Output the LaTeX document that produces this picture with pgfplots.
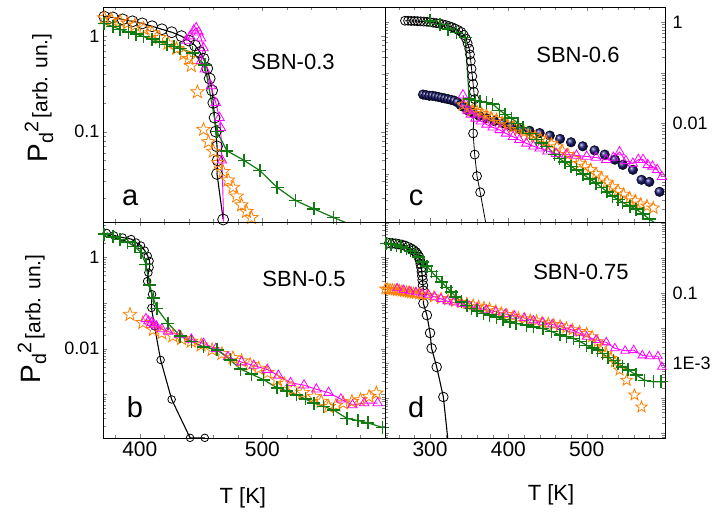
\documentclass[border=0pt]{standalone}
\usepackage{fontspec}
\setmainfont{Liberation Sans}
\usepackage{pgfplots}
\pgfplotsset{compat=1.18}
\usetikzlibrary{plotmarks}

\definecolor{cMag}{HTML}{FF00FF}
\definecolor{cOra}{HTML}{FF7F00}
\definecolor{cGrn}{HTML}{117A11}
\definecolor{cNav}{HTML}{1A1A78}

% open five-pointed star
\pgfdeclareplotmark{ostar}{%
  \pgfpathmoveto{\pgfpointpolar{90}{\pgfplotmarksize}}%
  \pgfpathlineto{\pgfpointpolar{126}{0.42\pgfplotmarksize}}%
  \pgfpathlineto{\pgfpointpolar{162}{\pgfplotmarksize}}%
  \pgfpathlineto{\pgfpointpolar{198}{0.42\pgfplotmarksize}}%
  \pgfpathlineto{\pgfpointpolar{234}{\pgfplotmarksize}}%
  \pgfpathlineto{\pgfpointpolar{270}{0.42\pgfplotmarksize}}%
  \pgfpathlineto{\pgfpointpolar{306}{\pgfplotmarksize}}%
  \pgfpathlineto{\pgfpointpolar{342}{0.42\pgfplotmarksize}}%
  \pgfpathlineto{\pgfpointpolar{18}{\pgfplotmarksize}}%
  \pgfpathlineto{\pgfpointpolar{54}{0.42\pgfplotmarksize}}%
  \pgfpathclose\pgfusepathqstroke}

\newcommand{\ylab}{{\fontsize{28}{28}\selectfont P\textsubscript{d}\textsuperscript{2}} {\fontsize{21}{21}\selectfont[arb. un.]}}

\tikzset{
  lab/.style={font=\fontsize{22}{22}\selectfont},
  plet/.style={font=\fontsize{29}{29}\selectfont, anchor=base},
}
\pgfplotsset{
  pnl/.style={scale only axis,
    xticklabel style={font=\fontsize{21}{21}\selectfont},
    yticklabel style={font=\fontsize{18}{18}\selectfont}},
  rlab/.style={yticklabel style={anchor=west, xshift=284pt}},
  leftx/.style={xmin=370, xmax=600, xtick={400,500},
    minor xtick={380,420,440,460,480,520,540,560,580}},
  rightx/.style={xmin=242.5, xmax=600, xtick={300,400,500},
    minor xtick={260,280,320,340,360,380,420,440,460,480,520,540,560,580}},
  circ/.style={black, line width=1.1pt, mark=o, mark options={solid, line width=0.8pt}},
  tri/.style={cMag, line width=0.9pt, mark=triangle, mark size=5.5pt, mark options={solid, line width=0.8pt}},
  sta/.style={cOra, only marks, mark=ostar, mark size=7pt, mark options={line width=0.8pt}},
  crs/.style={cGrn, line width=1.2pt, mark=+, mark size=6.5pt, mark options={line width=1.5pt}},
  bal/.style={only marks, mark=ball, mark size=4.8pt, mark options={ball color=cNav}},
}

\begin{document}
\begin{tikzpicture}
\useasboundingbox (0pt,0pt) rectangle (714pt,515pt);

% ---------- a: SBN-0.3 ----------
\begin{axis}[pnl, ymode=log, leftx, at={(103pt,293pt)}, anchor=south west,
  width=282pt, height=215pt, ymin=0.0113, ymax=2.02, xticklabels={},
  ytick={0.1,1}, yticklabels={0.1,1},
  minor ytick={0.02,0.03,0.04,0.05,0.06,0.07,0.08,0.09,0.2,0.3,0.4,0.5,0.6,0.7,0.8,0.9,2},
  ylabel={\ylab}, ylabel style={at={(axis description cs:-0.227,0.577)}, anchor=center}]
\addplot[circ, mark size=5.5pt] coordinates {(371,1.6)(378,1.57)(386,1.5)(394,1.43)(402,1.36)(410,1.27)(418,1.18)(426,1.1)(434,1.0)(440,0.9)(445,0.8)(449,0.68)(452,0.58)(455,0.46)(457,0.36)(459,0.27)(460,0.2)(461,0.14)(462,0.1)(463,0.07)(463.5,0.05)(463,0.036)(468,0.012)};
\addplot[sta] coordinates {(371,1.55)(377,1.48)(384,1.42)(390,1.37)(396,1.3)(403,1.2)(410,1.08)(416,0.96)(423,0.84)(430,0.74)(436,0.65)(440,0.58)(442,0.49)(447,0.26)(452,0.105)(456,0.078)(460,0.062)(464,0.047)(468,0.038)(472,0.031)(476,0.026)(479,0.021)(483,0.017)(487,0.0145)(491,0.0125)(494,0.011)};
\addplot[tri] coordinates {(438,0.9)(441,1.0)(444,1.15)(446,1.22)(448,1.1)(450,0.95)(452,0.75)(450,0.55)(453,0.45)(458,0.3)(462,0.2)(465,0.14)(466,0.11)(467,0.05)(468.5,0.011)};
\addplot[crs] coordinates {(371,1.36)(378,1.26)(384,1.18)(391,1.1)(397,1.05)(403,0.99)(410,0.93)(416,0.87)(422,0.82)(428,0.78)(433,0.74)(443,0.67)(453,0.5)(463,0.1)(471,0.063)(485,0.05)(498,0.039)(512,0.026)(527,0.019)(542,0.0155)(558,0.0126)(569,0.011)(580,0.0095)};
\node[lab] at (rel axis cs:0.674,0.744) {SBN-0.3};
\node[plet] at (rel axis cs:0.096,0.079) {a};
\end{axis}

% ---------- b: SBN-0.5 ----------
\begin{axis}[pnl, ymode=log, leftx, at={(103pt,77pt)}, anchor=south west,
  width=282pt, height=216pt, ymin=1.12e-4, ymax=5.9, xticklabels={400,500},
  ytick={0.001,0.01,0.1,1}, yticklabels={,0.01,,1},
  minor ytick={2e-4,3e-4,4e-4,5e-4,6e-4,7e-4,8e-4,9e-4,0.002,0.003,0.004,0.005,0.006,0.007,0.008,0.009,0.02,0.03,0.04,0.05,0.06,0.07,0.08,0.09,0.2,0.3,0.4,0.5,0.6,0.7,0.8,0.9,2,3,4,5},
  xlabel={T [K]}, xlabel style={font=\fontsize{22}{22}\selectfont, at={(axis description cs:0.496,-0.278)}, anchor=center},
  ylabel={\ylab}, ylabel style={at={(axis description cs:-0.252,0.551)}, anchor=center}]
\addplot[circ, mark size=3.8pt] coordinates {(373,3.4)(379,3.0)(386,2.7)(393,2.5)(397,2.1)(401,1.8)(404,1.4)(406.5,1.07)(408,0.83)(408,0.6)(407,0.46)(406,0.3)(410,0.155)(409.5,0.078)(412,0.031)(417,0.0057)(426,7.8e-4)(441,1.13e-4)(453,1.13e-4)};
\addplot[sta] coordinates {(392,0.056)(402.5,0.037)(411,0.026)(418,0.022)(427,0.019)(434,0.0165)(442,0.0145)(450,0.012)(459,0.0095)(467,0.0078)(476,0.0063)(483,0.0054)(490,0.0045)(497,0.0037)(504,0.003)(512,0.0021)(518,0.0017)(525,0.0013)(533,0.0011)(542,9e-4)(548,7e-4)(554,5.4e-4)(560,5.8e-4)(566,6.5e-4)(573,7.0e-4)(580,7.6e-4)(587,9e-4)(593,1.07e-3)};
\addplot[tri] coordinates {(405,0.045)(407,0.04)(409.6,0.037)(411.5,0.034)(413.6,0.031)(418,0.027)(423,0.024)(432,0.02)(442,0.016)(452,0.013)(462,0.01)(472,0.0066)(483,0.0051)(493,0.0043)(504,0.0035)(513,0.0026)(523,0.0018)(534,0.0016)(544,0.0013)(554,0.0011)(564,7.9e-4)(573.5,5.9e-4)(583,6.5e-4)(594,6.5e-4)};
\addplot[crs] coordinates {(371,3.2)(378,2.8)(384,2.45)(390,2.15)(396,1.7)(401,1.27)(405,0.7)(408,0.25)(411,0.13)(414,0.076)(423,0.036)(433,0.019)(442,0.0145)(452,0.011)(463,0.0095)(474,0.0057)(482,0.0036)(491,0.0028)(501,0.0021)(512,0.0014)(520,0.0012)(528,9.8e-4)(535,8e-4)(542,6.5e-4)(550,5.5e-4)(558,4.6e-4)(569,3.0e-4)(578,2.7e-4)(586,2.4e-4)(598,1.9e-4)};
\node[lab] at (rel axis cs:0.713,0.736) {SBN-0.5};
\node[plet] at (rel axis cs:0.113,0.097) {b};
\end{axis}

% ---------- c: SBN-0.6 ----------
\begin{axis}[pnl, rlab, ymode=log, rightx, at={(385pt,293pt)}, anchor=south west,
  width=280pt, height=215pt, ymin=1.11e-4, ymax=2.0, xticklabels={},
  ytick={0.001,0.01,0.1,1}, yticklabels={,0.01,,1},
  minor ytick={2e-4,3e-4,4e-4,5e-4,6e-4,7e-4,8e-4,9e-4,0.002,0.003,0.004,0.005,0.006,0.007,0.008,0.009,0.02,0.03,0.04,0.05,0.06,0.07,0.08,0.09,0.2,0.3,0.4,0.5,0.6,0.7,0.8,0.9,2}]
\addplot[circ, line width=0.8pt, mark size=4.5pt] coordinates {(268,1.07)(272,1.07)(276,1.06)(280,1.06)(284,1.05)(288,1.04)(292,1.03)(296,1.02)(300,1.0)(304,0.98)(308,0.96)(312,0.94)(316,0.91)(320,0.88)(324,0.84)(328,0.8)(332,0.75)(336,0.7)(340,0.64)(343,0.56)(346,0.47)(348,0.38)(350,0.3)(351,0.23)(352,0.17)(353,0.12)(354,0.085)(355,0.06)(356,0.042)(357,0.03)(355,0.0063)(357,0.0024)(360,9e-4)(364,4.3e-4)};
\addplot[black, line width=0.8pt] coordinates {(364,4.3e-4)(372,9e-5)};
\addplot[bal] coordinates {(291,0.037)(295,0.036)(299,0.035)(303,0.035)(307,0.034)(311,0.033)(315,0.032)(319,0.031)(323,0.030)(327,0.029)(331,0.028)(335,0.026)(339,0.023)(343,0.021)(348,0.018)(355,0.016)(363,0.014)(372,0.0126)(382,0.011)(393,0.01)(404,0.0087)(415,0.0076)(427,0.0071)(440,0.0064)(453,0.0057)(466,0.0049)(480,0.0042)(495,0.0035)(510,0.0029)(523,0.0024)(536,0.0019)(546,0.0015)(559,0.0012)(570,7.6e-4)(580,6.9e-4)(593,4.4e-4)};
\addplot[sta, mark size=6.5pt] coordinates {(342,0.023)(348,0.02)(354,0.018)(360,0.017)(366,0.0155)(372,0.0145)(378,0.013)(385,0.0118)(392,0.0103)(399,0.0093)(406,0.0084)(413,0.0075)(420,0.0067)(427,0.0059)(434,0.0054)(441,0.0049)(448,0.0044)(455,0.0039)(462,0.0034)(469,0.0028)(476,0.0024)(483,0.002)(491,0.0016)(498,0.0014)(505,0.0012)(512,0.001)(519,8.2e-4)(526,6.8e-4)(533,5.5e-4)(540,4.6e-4)(547,3.9e-4)(555,3.3e-4)(562,2.9e-4)(569,2.5e-4)(577,2.3e-4)(585,2.1e-4)};
\addplot[tri] coordinates {(342,0.036)(345,0.025)(348,0.018)(352,0.015)(358,0.0125)(365,0.011)(372,0.0095)(380,0.0083)(389,0.0074)(397,0.0063)(406,0.0054)(414,0.0047)(423,0.004)(432,0.0035)(440,0.0032)(450,0.0028)(461,0.0025)(474,0.0024)(487,0.0023)(500,0.0022)(512,0.0021)(525,0.0019)(534,0.0021)(542,0.0027)(550,0.0018)(559,0.0016)(566,0.0019)(572,0.0019)(578,0.0015)(584,0.0014)(590,0.0012)(596,8.7e-4)};
\addplot[crs] coordinates {(300,1.06)(313,0.91)(323,0.73)(334,0.62)(345,0.5)(350,0.03)(358,0.028)(364,0.027)(372,0.026)(380,0.024)(389,0.018)(396,0.015)(404,0.0126)(412,0.01)(418.5,0.0082)(427,0.0063)(436,0.0048)(442,0.0041)(449,0.0035)(459,0.0024)(465,0.002)(472,0.0017)(480,0.0014)(487,0.0012)(495,9.8e-4)(504,7.9e-4)(512,6.5e-4)(519,5.4e-4)(526,4.4e-4)(533,3.6e-4)(540,3.1e-4)(546,2.7e-4)(555,2.3e-4)(563,2.0e-4)(572,1.6e-4)(580,1.26e-4)(586,1.1e-4)};
\node[lab] at (rel axis cs:0.689,0.777) {SBN-0.6};
\node[plet] at (rel axis cs:0.111,0.079) {c};
\end{axis}

% ---------- d: SBN-0.75 ----------
\begin{axis}[pnl, rlab, ymode=log, rightx, at={(385pt,77pt)}, anchor=south west,
  width=280pt, height=216pt, ymin=7.4e-6, ymax=11, xticklabels={300,400,500},
  ytick={1e-5,1e-4,0.001,0.01,0.1,1,10}, yticklabels={,,1E-3,,0.1,,},
  minor ytick={8e-6,9e-6,2e-5,3e-5,4e-5,5e-5,6e-5,7e-5,8e-5,9e-5,2e-4,3e-4,4e-4,5e-4,6e-4,7e-4,8e-4,9e-4,0.002,0.003,0.004,0.005,0.006,0.007,0.008,0.009,0.02,0.03,0.04,0.05,0.06,0.07,0.08,0.09,0.2,0.3,0.4,0.5,0.6,0.7,0.8,0.9,2,3,4,5,6,7,8,9},
  xlabel={T [K]}, xlabel style={font=\fontsize{22}{22}\selectfont, at={(axis description cs:0.593,-0.264)}, anchor=center}]
\addplot[circ, mark size=4.8pt] coordinates {(248,2.75)(252,2.7)(256,2.65)(260,2.55)(264,2.45)(268,2.3)(272,2.1)(276,1.9)(279,1.7)(282,1.5)(284,1.3)(286,1.1)(287,0.9)(288,0.7)(289,0.55)(289.5,0.42)(290,0.32)(290.5,0.24)(291,0.17)(291.5,0.12)(291.5,0.052)(296,0.024)(300,0.0074)(302,0.0027)(308.5,7.9e-4)(317,1.1e-4)};
\addplot[black, line width=1.1pt] coordinates {(317,1.1e-4)(323,6e-6)};
\addplot[sta, mark size=6pt] coordinates {(243,0.135)(246,0.132)(249,0.13)(252,0.128)(255,0.125)(258,0.122)(261,0.12)(264,0.117)(267,0.114)(270,0.111)(273,0.108)(276,0.105)(279,0.102)(282,0.1)(286,0.097)(290,0.094)(296,0.088)(305,0.08)(314,0.072)(323,0.066)(332,0.06)(340,0.055)(347,0.052)(355,0.047)(362,0.043)(369,0.04)(376,0.037)(384,0.032)(391,0.028)(398,0.025)(406,0.022)(413,0.02)(421,0.019)(428,0.0175)(436,0.0165)(443,0.015)(451,0.014)(458,0.013)(466,0.012)(474,0.0105)(482,0.0092)(491,0.0082)(500,0.0072)(507,0.0058)(514,0.0042)(520,0.003)(525,0.0019)(531,0.0014)(536,0.0011)(542,6.5e-4)(551,3.3e-4)(561,1.26e-4)(570,5.7e-5)};
\addplot[tri, mark size=5pt] coordinates {(258,0.14)(266,0.125)(274,0.115)(282,0.108)(290,0.1)(298,0.092)(306,0.08)(314,0.07)(322,0.06)(330,0.055)(340,0.05)(350,0.044)(360,0.039)(372,0.034)(384,0.03)(396,0.026)(408,0.023)(420,0.02)(432,0.017)(444,0.015)(456,0.013)(468,0.011)(480,0.0093)(490,0.0075)(500,0.0058)(512,0.0047)(525,0.004)(536,0.0027)(549,0.0023)(560,0.0024)(571,0.0017)(580,0.0016)(591,0.0016)(596,8e-4)};
\addplot[crs] coordinates {(244,2.7)(250,2.55)(257,2.4)(263,2.15)(270,1.93)(275,1.65)(280,1.39)(285,1.1)(291,0.8)(296,0.6)(302,0.42)(308,0.3)(315,0.21)(321,0.15)(327,0.11)(333,0.08)(340,0.057)(347,0.045)(353,0.037)(360,0.032)(368,0.027)(376,0.024)(385,0.021)(393,0.018)(402,0.0154)(410,0.0138)(423,0.0125)(432,0.011)(444,0.01)(455,0.0082)(466,0.0065)(474,0.0058)(483,0.0052)(491,0.0043)(500,0.0033)(507,0.0028)(514,0.0024)(520,0.0019)(527,0.0015)(534,0.0012)(540,0.001)(546,8e-4)(553,6.5e-4)(563,4.7e-4)(574,3.3e-4)(585,3.0e-4)(595,3.0e-4)};
\node[lab] at (rel axis cs:0.7,0.769) {SBN-0.75};
\node[plet] at (rel axis cs:0.111,0.097) {d};
\end{axis}
\end{tikzpicture}
\end{document}
